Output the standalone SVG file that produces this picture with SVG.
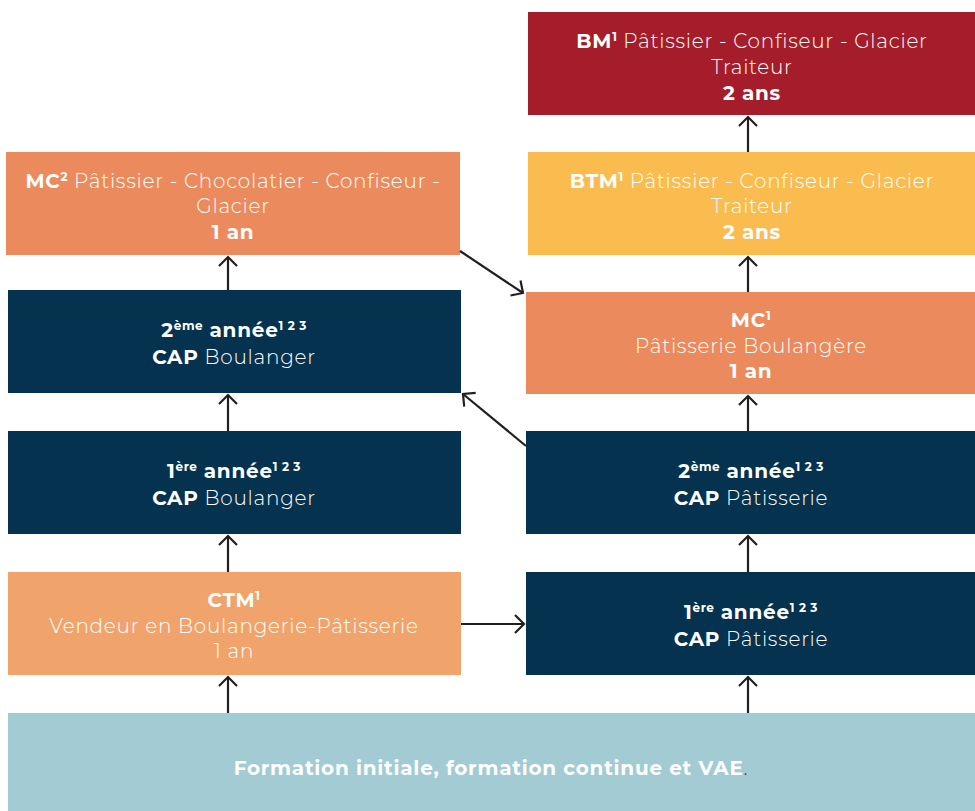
<svg xmlns="http://www.w3.org/2000/svg" width="975" height="811" viewBox="0 0 975 811">
<defs>
<style>
text{font-family:Montserrat,"Open Sans","Liberation Sans",sans-serif;font-size:20px;fill:#ffffff;text-anchor:middle;font-weight:300;letter-spacing:0.75px}
.b{font-weight:700}
.s{font-size:12px;font-weight:700;letter-spacing:0.5px}
.con line{stroke:#231f20;stroke-width:2.2;fill:none;marker-end:url(#ah)}
</style>
<marker id="ah" markerUnits="userSpaceOnUse" markerWidth="24" markerHeight="24" viewBox="-12 -12 24 24" refX="0" refY="0" orient="auto">
<path d="M-9,-9 L0,0 L-9,9" fill="none" stroke="#231f20" stroke-width="2.2"/>
</marker>
</defs>
<rect width="975" height="811" fill="#ffffff"/>

<g id="bm">
<rect x="528" y="12" width="447" height="103" fill="#a51d2a"/>
<text x="752" y="48"><tspan class="b">BM</tspan><tspan class="s" dy="-7">1</tspan><tspan dy="7"> Pâtissier - Confiseur - Glacier</tspan></text>
<text x="752" y="74">Traiteur</text>
<text x="752" y="100" class="b">2 ans</text>
</g>

<g id="btm">
<rect x="528" y="152" width="447" height="103" fill="#fbbc4f"/>
<text x="752" y="188"><tspan class="b">BTM</tspan><tspan class="s" dy="-7">1</tspan><tspan dy="7"> Pâtissier - Confiseur - Glacier</tspan></text>
<text x="752" y="213">Traiteur</text>
<text x="752" y="239" class="b">2 ans</text>
</g>

<g id="mc1">
<rect x="526" y="292" width="449" height="102" fill="#eb8b5d"/>
<text x="751" y="327"><tspan class="b">MC</tspan><tspan class="s" dy="-7">1</tspan></text>
<text x="751" y="353">Pâtisserie Boulangère</text>
<text x="751" y="378" class="b">1 an</text>
</g>

<g id="cap2pat">
<rect x="526" y="431" width="449" height="103" fill="#04324f"/>
<text x="751" y="478"><tspan class="b">2</tspan><tspan class="s" dy="-7">ème</tspan><tspan class="b" dy="7"> année</tspan><tspan class="s" dy="-7">1 2 3</tspan></text>
<text x="751" y="505"><tspan class="b">CAP</tspan> Pâtisserie</text>
</g>

<g id="cap1pat">
<rect x="526" y="572" width="449" height="103" fill="#04324f"/>
<text x="751" y="619"><tspan class="b">1</tspan><tspan class="s" dy="-7">ère</tspan><tspan class="b" dy="7"> année</tspan><tspan class="s" dy="-7">1 2 3</tspan></text>
<text x="751" y="646"><tspan class="b">CAP</tspan> Pâtisserie</text>
</g>

<g id="mc2">
<rect x="6" y="152" width="454" height="103" fill="#eb8b5d"/>
<text x="233" y="188"><tspan class="b">MC</tspan><tspan class="s" dy="-7">2</tspan><tspan dy="7"> Pâtissier - Chocolatier - Confiseur -</tspan></text>
<text x="233" y="213">Glacier</text>
<text x="233" y="239" class="b">1 an</text>
</g>

<g id="cap2boul">
<rect x="8" y="290" width="453" height="103" fill="#04324f"/>
<text x="234" y="337"><tspan class="b">2</tspan><tspan class="s" dy="-7">ème</tspan><tspan class="b" dy="7"> année</tspan><tspan class="s" dy="-7">1 2 3</tspan></text>
<text x="234" y="364"><tspan class="b">CAP</tspan> Boulanger</text>
</g>

<g id="cap1boul">
<rect x="8" y="431" width="453" height="103" fill="#04324f"/>
<text x="234" y="478"><tspan class="b">1</tspan><tspan class="s" dy="-7">ère</tspan><tspan class="b" dy="7"> année</tspan><tspan class="s" dy="-7">1 2 3</tspan></text>
<text x="234" y="505"><tspan class="b">CAP</tspan> Boulanger</text>
</g>

<g id="ctm">
<rect x="8" y="572" width="453" height="103" fill="#f0a46c"/>
<text x="234" y="607"><tspan class="b">CTM</tspan><tspan class="s" dy="-7">1</tspan></text>
<text x="234" y="633">Vendeur en Boulangerie-Pâtisserie</text>
<text x="234" y="658">1 an</text>
</g>

<g id="base">
<rect x="8" y="713" width="967" height="98" fill="#a2cbd3"/>
<text x="491" y="775"><tspan class="b">Formation initiale, formation continue et VAE</tspan><tspan style="fill:#333333">.</tspan></text>
</g>

<g id="connectors" class="con">
<line x1="228" y1="713" x2="228" y2="677"/>
<line x1="228" y1="572" x2="228" y2="536"/>
<line x1="228" y1="431" x2="228" y2="395"/>
<line x1="228" y1="290" x2="228" y2="257"/>
<line x1="748" y1="713" x2="748" y2="677"/>
<line x1="748" y1="572" x2="748" y2="536"/>
<line x1="748" y1="431" x2="748" y2="396"/>
<line x1="748" y1="292" x2="748" y2="257"/>
<line x1="748" y1="152" x2="748" y2="117"/>
<line x1="461" y1="624" x2="524" y2="624"/>
<line x1="460" y1="251" x2="523" y2="293"/>
<line x1="526" y1="446" x2="463" y2="394"/>
</g>
</svg>
